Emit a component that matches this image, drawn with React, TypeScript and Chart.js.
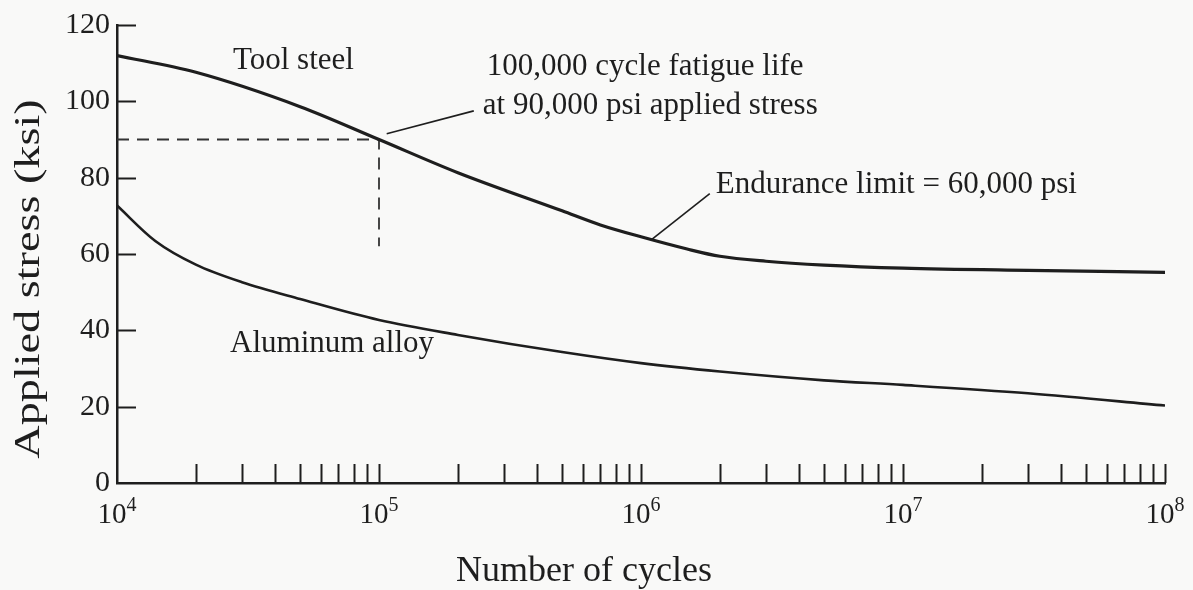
import React, { useEffect, useRef } from 'react';
import { Chart, registerables } from 'chart.js';

Chart.register(...registerables);

// ---- data ----
const toolSteelCycles = [1e4, 2e4, 5e4, 1e5, 2e5, 5e5, 7e5, 1e6, 1.5e6, 2e6, 3e6, 5e6, 1e7, 3e7, 1e8];
const toolSteelKsi = [112, 107.6, 98.6, 90, 81.3, 71.3, 67.6, 64.5, 61.3, 59.4, 58.1, 57.1, 56.3, 55.7, 55.2];
const aluminumCycles = [1e4, 1.4e4, 2e4, 3e4, 5e4, 1e5, 2e5, 5e5, 1e6, 2e6, 5e6, 1e7, 3e7, 1e8];
const aluminumAlloyKsi = [72.7, 63.4, 57.2, 52.6, 48.2, 42.7, 38.8, 34.3, 31.4, 29.2, 26.9, 25.7, 23.5, 20.3];

const stressTicks = [0, 20, 40, 60, 80, 100, 120];
const decadeTicks = [1e4, 1e5, 1e6, 1e7, 1e8];
const decadeBase = ['10', '10', '10', '10', '10'];
const decadeExponents = ['4', '5', '6', '7', '8'];
const minorMultipliers = [2, 3, 4, 5, 6, 7, 8, 9, 10];

// dashed guide: 100,000 cycles at 90 ksi
const guideCycles = [1e4, 1e5, 1e5];
const guideKsi = [90, 90, 62];

// leader lines for the callouts
const fatigueLeaderCycles = [1.07e5, 2.3e5];
const fatigueLeaderKsi = [91.5, 97.5];
const enduranceLeaderCycles = [1.1e6, 1.83e6];
const enduranceLeaderKsi = [63.8, 75.8];

const calloutTexts = [
  'Tool steel',
  '100,000 cycle fatigue life',
  'at 90,000 psi applied stress',
  'Endurance limit = 60,000 psi',
  'Aluminum alloy',
];
const calloutCycles = [2.77e4, 2.58e5, 2.49e5, 1.93e6, 2.7e4];
const calloutKsi = [108.5, 106.9, 96.7, 76.1, 34.2];

const xTitle = 'Number of cycles';
const yTitle = 'Applied stress (ksi)';

// ---- styles ----
const SERIF = "'Liberation Serif', 'Times New Roman', Times, serif";
const INK = '#1e1e1e';
const BG = '#f9f9f8';

const pts = (xs: number[], ys: number[]) => xs.map((x, i) => ({ x, y: ys[i] }));

const overlayPlugin = {
  id: 'overlay',
  beforeDraw(chart: any) {
    const { ctx, width, height } = chart;
    ctx.save();
    ctx.fillStyle = BG;
    ctx.fillRect(0, 0, width, height);
    ctx.restore();
  },
  afterDraw(chart: any) {
    const { ctx, chartArea } = chart;
    const xs = chart.scales.x;
    const ys = chart.scales.y;
    ctx.save();
    ctx.strokeStyle = INK;
    ctx.lineWidth = 2;
    // inward minor/major ticks on the x axis
    for (let d = 0; d < decadeTicks.length - 1; d++) {
      for (const m of minorMultipliers) {
        const px = Math.round(xs.getPixelForValue(decadeTicks[d] * m)) + 0.5;
        ctx.beginPath();
        ctx.moveTo(px, chartArea.bottom);
        ctx.lineTo(px, chartArea.bottom - 19);
        ctx.stroke();
      }
    }
    // inward ticks on the y axis
    for (const v of stressTicks) {
      if (v === 0) continue;
      const py = Math.round(ys.getPixelForValue(v)) + 0.5;
      ctx.beginPath();
      ctx.moveTo(chartArea.left, py);
      ctx.lineTo(chartArea.left + 19, py);
      ctx.stroke();
    }

    ctx.fillStyle = INK;
    // x tick labels 10^n
    ctx.textBaseline = 'alphabetic';
    ctx.textAlign = 'left';
    decadeTicks.forEach((v, i) => {
      const px = xs.getPixelForValue(v);
      ctx.font = `29px ${SERIF}`;
      const wb = ctx.measureText(decadeBase[i]).width;
      ctx.font = `20px ${SERIF}`;
      const we = ctx.measureText(decadeExponents[i]).width;
      const start = px - (wb + we) / 2;
      ctx.font = `29px ${SERIF}`;
      ctx.fillText(decadeBase[i], start, chartArea.bottom + 40);
      ctx.font = `20px ${SERIF}`;
      ctx.fillText(decadeExponents[i], start + wb, chartArea.bottom + 28);
    });

    // callouts
    ctx.font = `31px ${SERIF}`;
    calloutTexts.forEach((t, i) => {
      ctx.fillText(t, xs.getPixelForValue(calloutCycles[i]), ys.getPixelForValue(calloutKsi[i]));
    });

    // axis titles
    ctx.font = `36px ${SERIF}`;
    ctx.textAlign = 'center';
    ctx.fillText(xTitle, 584, 581);
    ctx.save();
    ctx.translate(30, 279);
    ctx.rotate(-Math.PI / 2);
    ctx.scale(1.32, 1);
    ctx.font = `35px ${SERIF}`;
    ctx.textBaseline = 'middle';
    ctx.fillText(yTitle, 0, 0);
    ctx.restore();
    ctx.restore();
  },
};

export default function App() {
  const canvasRef = useRef<HTMLCanvasElement | null>(null);

  useEffect(() => {
    document.body.style.margin = '0';
    document.body.style.background = BG;
    const canvas = canvasRef.current;
    if (!canvas) return;
    const chart = new Chart(canvas, {
      type: 'line',
      data: {
        datasets: [
          {
            label: 'Tool steel',
            data: pts(toolSteelCycles, toolSteelKsi),
            borderColor: INK,
            borderWidth: 3.2,
            pointRadius: 0,
            cubicInterpolationMode: 'monotone',
          },
          {
            label: 'Aluminum alloy',
            data: pts(aluminumCycles, aluminumAlloyKsi),
            borderColor: INK,
            borderWidth: 2.6,
            pointRadius: 0,
            cubicInterpolationMode: 'monotone',
          },
          {
            label: 'guide',
            data: pts(guideCycles, guideKsi),
            borderColor: '#333',
            borderWidth: 1.8,
            borderDash: [12, 8],
            pointRadius: 0,
            tension: 0,
          },
          {
            label: 'fatigue leader',
            data: pts(fatigueLeaderCycles, fatigueLeaderKsi),
            borderColor: INK,
            borderWidth: 1.6,
            pointRadius: 0,
            tension: 0,
          },
          {
            label: 'endurance leader',
            data: pts(enduranceLeaderCycles, enduranceLeaderKsi),
            borderColor: INK,
            borderWidth: 1.6,
            pointRadius: 0,
            tension: 0,
          },
        ],
      },
      options: {
        responsive: false,
        animation: false,
        devicePixelRatio: 1,
        events: [],
        layout: { padding: { top: 24, right: 28, left: 0, bottom: 0 } },
        plugins: {
          legend: { display: false },
          tooltip: { enabled: false },
        },
        scales: {
          x: {
            type: 'logarithmic',
            min: 1e4,
            max: 1e8,
            grid: { display: false, drawTicks: false },
            border: { display: true, color: INK, width: 2.5 },
            ticks: { display: false },
            afterBuildTicks: (scale: any) => {
              scale.ticks = decadeTicks.map((value) => ({ value }));
            },
            afterFit: (scale: any) => {
              scale.height = 107;
            },
          },
          y: {
            type: 'linear',
            min: 0,
            max: 120,
            grid: { display: false, drawTicks: false },
            border: { display: true, color: INK, width: 2.5 },
            afterBuildTicks: (scale: any) => {
              scale.ticks = stressTicks.map((value) => ({ value }));
            },
            ticks: {
              padding: 7,
              color: INK,
              font: { family: SERIF, size: 30 },
            },
            afterFit: (scale: any) => {
              scale.width = 117;
            },
          },
        },
      },
      plugins: [overlayPlugin],
    } as any);
    return () => chart.destroy();
  }, []);

  return (
    <div style={{ width: 1193, height: 590 }}>
      <canvas ref={canvasRef} width={1193} height={590} style={{ display: 'block' }} />
    </div>
  );
}
